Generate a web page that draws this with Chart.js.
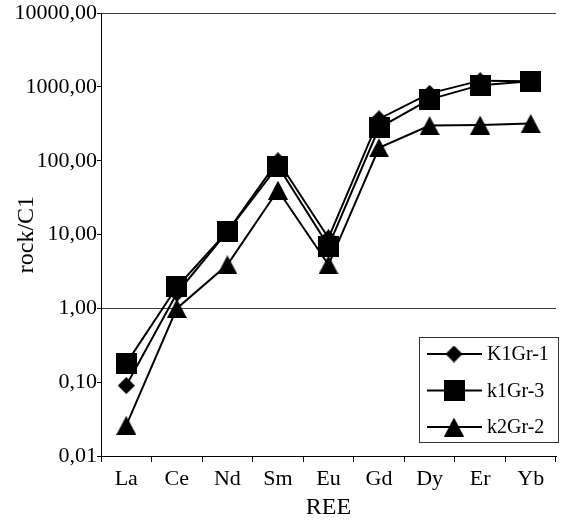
<!DOCTYPE html>
<html>
<head>
<meta charset="utf-8">
<script src="https://cdn.jsdelivr.net/npm/chart.js@4/dist/chart.umd.min.js"></script>
<style>
  html, body { margin: 0; padding: 0; background: #fff; }
  #wrap { width: 568px; height: 520px; }
</style>
</head>
<body>
<div id="wrap"><canvas id="reeChart" width="568" height="520"></canvas></div>
<script>
  const labels = ['La', 'Ce', 'Nd', 'Sm', 'Eu', 'Gd', 'Dy', 'Er', 'Yb'];

  const k1gr1 = [0.09, 1.6, 11, 100, 9, 370, 820, 1220, 1200];
  const k1gr3 = [0.18, 1.95, 11, 85, 7, 280, 680, 1060, 1200];
  const k2gr2 = [0.026, 1.0, 3.9, 40, 3.9, 150, 300, 305, 320];

  const yTicks = [0.01, 0.1, 1, 10, 100, 1000, 10000];
  const yTickLabels = ['0,01', '0,10', '1,00', '10,00', '100,00', '1000,00', '10000,00'];

  const serif = "'Liberation Serif', 'Times New Roman', serif";

  // little canvases used as markers (excel style shapes)
  function marker(shape, w, h) {
    const c = document.createElement('canvas');
    c.width = w; c.height = h;
    const g = c.getContext('2d');
    g.fillStyle = '#000';
    g.beginPath();
    if (shape === 'diamond') {
      g.moveTo(w / 2, 0); g.lineTo(w, h / 2); g.lineTo(w / 2, h); g.lineTo(0, h / 2);
    } else if (shape === 'triangle') {
      g.moveTo(w / 2, 0); g.lineTo(w, h); g.lineTo(0, h);
    } else {
      g.rect(0, 0, w, h);
    }
    g.closePath();
    g.fill();
    return c;
  }

  const diamond = marker('diamond', 17, 17);
  const square = marker('square', 21, 21);
  const triangle = marker('triangle', 20, 19);

  function series(label, values, style, order) {
    return {
      label: label,
      data: values,
      borderColor: '#000',
      backgroundColor: '#000',
      borderWidth: 2,
      pointStyle: style,
      pointRadius: 10,
      pointHoverRadius: 10,
      tension: 0,
      order: order
    };
  }

  const data = {
    labels: labels,
    datasets: [
      series('K1Gr-1', k1gr1, diamond, 3),
      series('k1Gr-3', k1gr3, square, 2),
      series('k2Gr-2', k2gr2, triangle, 1)
    ]
  };

  // legend box drawn by hand: line + marker + name
  const boxLegend = {
    id: 'boxLegend',
    afterDraw(chart) {
      const ctx = chart.ctx;
      const x0 = 419, y0 = 337, w = 139, h = 105;
      ctx.save();
      ctx.fillStyle = '#fff';
      ctx.fillRect(x0, y0, w, h);
      ctx.strokeStyle = '#333';
      ctx.lineWidth = 1;
      ctx.strokeRect(x0 + 0.5, y0 + 0.5, w, h);
      ctx.font = '20px ' + serif;
      ctx.textBaseline = 'middle';
      ctx.fillStyle = '#000';
      chart.data.datasets.forEach((ds, i) => {
        const y = 354 + i * 36.5;
        ctx.strokeStyle = '#000';
        ctx.lineWidth = 2;
        ctx.beginPath();
        ctx.moveTo(427, y);
        ctx.lineTo(482, y);
        ctx.stroke();
        const m = ds.pointStyle;
        ctx.drawImage(m, 454 - m.width / 2, y - m.height / 2);
        ctx.fillText(ds.label, 487, y + 1);
      });
      ctx.restore();
    }
  };

  const config = {
    type: 'line',
    data,
    options: {
      responsive: false,
      animation: false,
      layout: { padding: { left: 0, right: 4, top: 11, bottom: 0 } },
      plugins: {
        legend: { display: false },
        tooltip: { enabled: false }
      },
      scales: {
        x: {
          offset: true,
          grid: {
            offset: true,
            drawOnChartArea: false,
            tickLength: 6,
            tickColor: '#000'
          },
          border: { color: '#000', width: 1 },
          ticks: {
            color: '#000',
            padding: 4,
            font: { family: serif, size: 22 }
          },
          title: {
            display: true,
            text: 'REE',
            color: '#000',
            padding: 0,
            font: { family: serif, size: 24, lineHeight: 1 }
          },
          afterFit: s => { s.height = 64; }
        },
        y: {
          type: 'logarithmic',
          min: 0.01,
          max: 10000,
          afterBuildTicks: s => { s.ticks = yTicks.map(v => ({ value: v })); },
          grid: {
            color: c => (c.tick && (c.tick.value === 1 || c.tick.value === 10000)) ? '#404040' : 'rgba(0,0,0,0)',
            lineWidth: 1,
            tickLength: 4,
            tickColor: '#000'
          },
          border: { color: '#000', width: 1 },
          ticks: {
            color: '#000',
            padding: 0,
            autoSkip: false,
            font: { family: serif, size: 22 },
            callback: v => {
              const i = yTicks.indexOf(v);
              return i >= 0 ? yTickLabels[i] : '';
            }
          },
          title: {
            display: true,
            text: 'rock/C1',
            color: '#000',
            padding: { top: 15, bottom: 0 },
            font: { family: serif, size: 24, lineHeight: 1 }
          },
          afterFit: s => { s.width = 101; }
        }
      }
    },
    plugins: [boxLegend]
  };

  const reeChart = new Chart(
    document.getElementById('reeChart'),
    config
  );
</script>
</body>
</html>
